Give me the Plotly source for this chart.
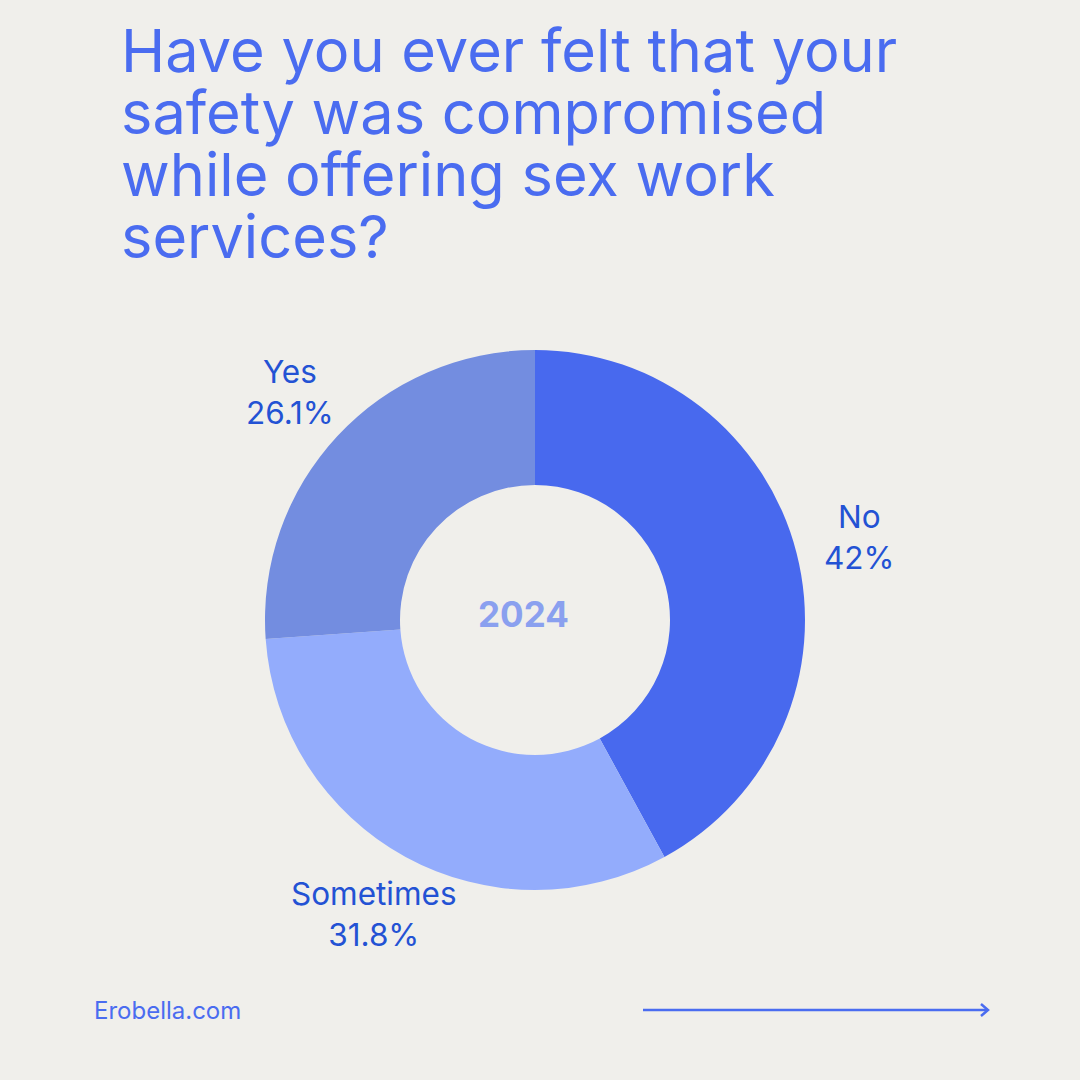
import math
import plotly.graph_objects as go

labels = ["No", "Sometimes", "Yes"]
values = [42, 31.8, 26.1]
colors = ["#4869EE", "#93ACFC", "#738DE0"]
title_lines = ["Have you ever felt that your", "safety was compromised",
               "while offering sex work", "services?"]
center_text = "2024"
footer = "Erobella.com"

W = H = 1080
BG = "#F0EFEB"
TITLE_C = "#4A6CF0"
LABEL_C = "#2352D4"

# pie geometry (pixels)
CX, CY, R = 535, 620, 270
LABEL_R = 335

fig = go.Figure()
fig.add_trace(go.Pie(
    labels=labels, values=values, sort=False, direction="clockwise", rotation=0,
    hole=0.5, marker=dict(colors=colors, line=dict(width=0)),
    textinfo="none", showlegend=False, hoverinfo="skip",
    domain=dict(x=[(CX - R) / W, (CX + R) / W], y=[1 - (CY + R) / H, 1 - (CY - R) / H]),
))

anns = []
for i, line in enumerate(title_lines):
    anns.append(dict(text=line, x=119 / W, y=1 - (50 + 62 * i) / H, xref="paper", yref="paper",
                     xanchor="left", yanchor="middle", showarrow=False,
                     font=dict(family="Inter", size=59.5, color=TITLE_C)))

# slice labels placed along each slice's mid-angle
total = sum(values)
cum = 0.0
for lab, v in zip(labels, values):
    mid = (cum + v / 2) / total * 2 * math.pi
    cum += v
    px = CX + LABEL_R * math.sin(mid)
    py = CY - LABEL_R * math.cos(mid)
    anns.append(dict(text=f"{lab}<br>{v:g}%", x=px / W, y=1 - py / H, xref="paper", yref="paper",
                     xanchor="center", yanchor="middle", showarrow=False, align="center",
                     font=dict(family="Inter", size=31.5, color=LABEL_C)))

anns.append(dict(text="<b>" + center_text + "</b>", x=523 / W, y=1 - 614 / H, xref="paper", yref="paper",
                 xanchor="center", yanchor="middle", showarrow=False,
                 font=dict(family="Inter", size=35, color="#8AA0EF")))
anns.append(dict(text=footer, x=92 / W, y=1 - 1010 / H, xref="paper", yref="paper",
                 xanchor="left", yanchor="middle", showarrow=False,
                 font=dict(family="Inter", size=24, color=TITLE_C)))

shapes = [
    dict(type="line", xref="paper", yref="paper", x0=643 / W, x1=987 / W, y0=1 - 1010 / H, y1=1 - 1010 / H,
         line=dict(color=TITLE_C, width=2.5)),
    dict(type="path", xref="paper", yref="paper",
         path=f"M {981/W} {1-1004/H} L {988/W} {1-1010/H} L {981/W} {1-1016/H}",
         line=dict(color=TITLE_C, width=2.5)),
]

fig.update_layout(width=W, height=H, paper_bgcolor=BG, plot_bgcolor=BG,
                  margin=dict(l=0, r=0, t=0, b=0), annotations=anns, shapes=shapes)
fig.write_html("out.html", config={"displayModeBar": False},
               post_script="document.body.style.margin='0';document.body.style.background='#F0EFEB';")
